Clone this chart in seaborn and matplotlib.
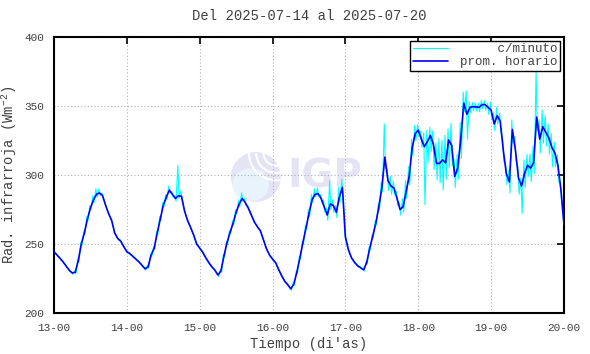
import numpy as np
import pandas as pd
import matplotlib
matplotlib.use("Agg")
import matplotlib.pyplot as plt
from matplotlib.patches import Ellipse, Arc
import seaborn as sns

# hourly mean (prom. horario), one list per day, values in W m-2
dia13 = [244.4, 242, 239.6, 237, 234, 231, 229, 229.5, 238, 250, 258, 268,
         276, 282, 286, 287, 285, 278, 272, 267, 258, 254, 252, 248]
dia14 = [244.4, 243, 241, 239, 237, 234.5, 232, 233.5, 242, 247, 258, 268,
         278, 284, 289, 286, 283, 285, 284.5, 274, 267, 262, 256.5, 250]
dia15 = [247, 244, 240, 236.5, 233.5, 231, 227.5, 230.5, 241.5, 251, 258.5, 265,
         273, 279, 283, 280, 276, 271, 266, 262.5, 259.5, 253, 246.5, 242]
dia16 = [239, 236.5, 231.5, 227, 223, 220.5, 217.5, 221, 229.5, 240, 251, 261.5,
         272, 282, 286, 286.5, 283, 277, 271, 279, 278, 273, 284, 291]
dia17 = [255, 245.7, 240, 236.7, 234.3, 232.8, 231.3, 236.5, 246.8, 255.7, 265, 276.7,
         290.8, 313, 296, 292, 290.5, 283, 275, 277, 288, 299, 320, 330]
dia18 = [332.5, 326, 320.5, 324.3, 328.6, 322, 308.4, 308.4, 311, 308.8, 325.4, 321.5,
         299, 305, 326, 352, 344, 349, 349.5, 349.3, 349, 351, 351, 349]
dia19 = [347, 337, 343, 339, 318, 301, 295, 333, 318, 298, 292, 301,
         307, 305, 309, 342, 326, 335, 331, 327, 320, 316, 307, 289]
ultimo = [264]

# spread of the per-minute record around each hourly value (up / down)
alto13 = [1, 1, 1, 1, 1, 1, 1, 1, 1, 1, 1, 2, 2, 3, 4, 3, 2, 2, 1, 1, 1, 1, 1, 1]
bajo13 = [1, 1, 1, 1, 1, 1, 1, 1, 1, 1, 1, 1, 1, 2, 2, 2, 1, 1, 1, 1, 1, 1, 1, 1]
alto14 = [1, 1, 1, 1, 1, 1, 1, 1, 1, 1, 1, 2, 2, 2, 3, 2, 2, 22, 4, 2, 1, 1, 1, 1]
bajo14 = [1, 1, 1, 1, 1, 1, 1, 1, 1, 1, 1, 1, 1, 2, 2, 2, 2, 2, 2, 1, 1, 1, 1, 1]
alto15 = [1, 1, 1, 1, 1, 1, 1, 1, 1, 1, 1, 2, 2, 3, 4, 3, 2, 2, 1, 1, 1, 1, 1, 1]
bajo15 = [1, 1, 1, 1, 1, 1, 1, 1, 1, 1, 1, 1, 1, 2, 2, 2, 1, 1, 1, 1, 1, 1, 1, 1]
alto16 = [1, 1, 1, 1, 1, 1, 1, 1, 1, 1, 1, 2, 3, 4, 4, 4, 3, 5, 5, 17, 4, 5, 7, 6]
bajo16 = [1, 1, 1, 1, 1, 1, 1, 1, 1, 1, 1, 1, 2, 2, 2, 2, 3, 4, 4, 4, 5, 4, 4, 6]
alto17 = [1, 1, 1, 1, 1, 1, 1, 1, 1, 1, 2, 3, 4, 24, 8, 7, 5, 5, 5, 6, 8, 7, 6, 6]
bajo17 = [1, 1, 1, 1, 1, 1, 1, 1, 1, 1, 1, 2, 3, 8, 7, 6, 5, 5, 4, 4, 5, 6, 6, 5]
alto18 = [4, 6, 10, 8, 6, 10, 15, 18, 14, 20, 8, 16, 12, 10, 12, 8, 17, 4, 3, 3, 3, 3, 3, 3]
bajo18 = [4, 6, 42, 15, 12, 18, 12, 14, 22, 12, 20, 15, 8, 8, 14, 6, 18, 4, 3, 3, 3, 3, 4, 5]
alto19 = [6, 8, 6, 6, 8, 6, 8, 7, 10, 8, 6, 10, 8, 10, 12, 33, 14, 12, 12, 10, 10, 8, 8, 6]
bajo19 = [6, 5, 6, 8, 8, 8, 8, 10, 8, 12, 20, 10, 8, 10, 8, 10, 10, 12, 10, 12, 14, 10, 12, 8]

dias_ticks = [13, 14, 15, 16, 17, 18, 19, 20]
etiquetas_x = ["13-00", "14-00", "15-00", "16-00", "17-00", "18-00", "19-00", "20-00"]
ticks_y = [200, 250, 300, 350, 400]

horario = np.array(dia13 + dia14 + dia15 + dia16 + dia17 + dia18 + dia19 + ultimo)
alto = np.array(alto13 + alto14 + alto15 + alto16 + alto17 + alto18 + alto19)
bajo = np.array(bajo13 + bajo14 + bajo15 + bajo16 + bajo17 + bajo18 + bajo19)

t_hora = 13 + np.arange(len(horario)) / 24.0
df_h = pd.DataFrame({"t": t_hora, "rad": horario})

# per-minute record drawn as a zig-zag around each hour
t_min, v_min = [], []
for i in range(len(alto)):
    t_min += [t_hora[i] - 0.2 / 24, t_hora[i] + 0.2 / 24]
    v_min += [horario[i] + alto[i], horario[i] - bajo[i]]
t_min += [t_hora[-1]]
v_min += [horario[-1]]
df_m = pd.DataFrame({"t": t_min, "rad": v_min})

sns.set_style("white")
plt.rcParams["font.family"] = ["Liberation Mono", "DejaVu Sans Mono"]
plt.rcParams["mathtext.default"] = "regular"
gris = "#404040"

fig = plt.figure(figsize=(5.9, 3.54), dpi=100)
ax = fig.add_axes([54 / 590, 1 - 313 / 354, 510 / 590, 276 / 354])

# IGP watermark
ax.add_patch(Ellipse((15.77, 298.6), 0.686, 36.2, color="#e4e4f5", lw=0, zorder=0))
ax.add_patch(Ellipse((15.70, 293.0), 0.50, 24.0, color="#e8f3fc", lw=0, zorder=0))
for r in [0.35, 0.55, 0.75]:
    ax.add_patch(Arc((16.05, 316.0), r, r * 52.8, theta1=180, theta2=290,
                     color="white", lw=1.5, zorder=0))
ax.text(16.21, 298.6, "IGP", fontsize=28, fontweight="bold", color="#e4e4f5",
        family="DejaVu Sans", va="center", ha="left", zorder=0)

sns.lineplot(data=df_m, x="t", y="rad", ax=ax, color="#00ffff", lw=0.8,
             estimator=None, sort=False, label="     c/minuto", zorder=2)
sns.lineplot(data=df_h, x="t", y="rad", ax=ax, color="#0000ff", lw=1.2,
             estimator=None, sort=False, label="prom. horario", zorder=3)

ax.set_xlim(13, 20)
ax.set_ylim(200, 400)
ax.set_xticks(dias_ticks)
ax.set_xticklabels(etiquetas_x)
ax.set_yticks(ticks_y)
ax.grid(True, color="#b0b0b0", ls=(0, (1, 2)), lw=0.8)
ax.tick_params(direction="in", length=5, width=1.2, top=True, right=True,
               labelsize=8, colors="black", labelcolor=gris, pad=7)
for s in ax.spines.values():
    s.set_color("black")
    s.set_linewidth(1.5)

ax.set_xlabel("Tiempo (di'as)", fontsize=10, color=gris, labelpad=3)
ax.set_ylabel("Rad. infrarroja (Wm$^{-2}$)", fontsize=10, color=gris, labelpad=4)
ax.set_title("Del 2025-07-14 al 2025-07-20", fontsize=10, color=gris, pad=12)

leg = ax.legend(loc="upper right", fontsize=9, frameon=True, fancybox=False,
                edgecolor="black", framealpha=1, handlelength=2.8,
                borderaxespad=0.3, borderpad=0.2, labelspacing=0.1,
                handletextpad=1.0)
leg.get_frame().set_linewidth(1.0)
for t in leg.get_texts():
    t.set_color(gris)

fig.savefig("out.png", dpi=100)
